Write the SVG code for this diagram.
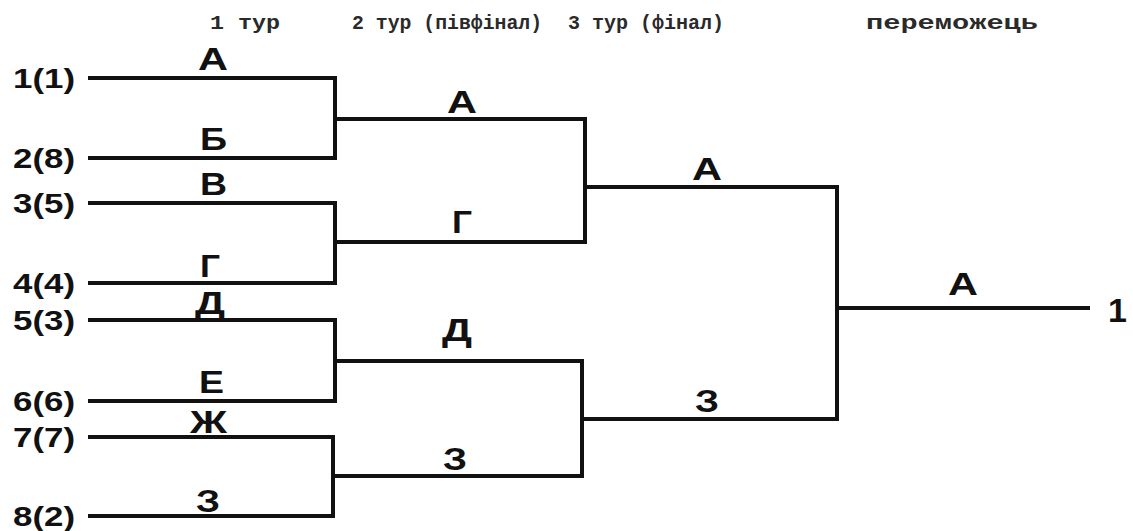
<svg xmlns="http://www.w3.org/2000/svg" width="1133" height="531" viewBox="0 0 1133 531">
<style>
.ln{fill:none;stroke:#111;stroke-width:4;stroke-linecap:square;stroke-linejoin:miter}
.hd{font-family:"Liberation Mono","Courier New",monospace;font-size:20px;font-weight:bold;fill:#2a2a2a}
.lb{font-family:"Liberation Sans",Arial,sans-serif;font-weight:bold;font-size:31px;fill:#111}
.sd{font-family:"Liberation Sans",Arial,sans-serif;font-weight:bold;font-size:28px;fill:#111}
</style>
<rect width="1133" height="531" fill="#fff"/>
<g id="headers">
<text class="hd" x="210" y="29" textLength="70" lengthAdjust="spacingAndGlyphs">1 тур</text>
<text class="hd" x="352" y="29" textLength="190" lengthAdjust="spacingAndGlyphs">2 тур (півфінал)</text>
<text class="hd" x="568" y="29" textLength="156" lengthAdjust="spacingAndGlyphs">3 тур (фінал)</text>
<text class="hd" x="866" y="29" textLength="172" lengthAdjust="spacingAndGlyphs">переможець</text>
</g>
<g id="connectors">
<path class="ln" d="M90,78 H335 V158 H90"/>
<path class="ln" d="M90,203 H335 V283 H90"/>
<path class="ln" d="M90,320 H335 V401 H90"/>
<path class="ln" d="M90,437 H333 V516 H90"/>
<path class="ln" d="M335,119 H585 V242 H335"/>
<path class="ln" d="M335,361 H582 V476 H333"/>
<path class="ln" d="M585,187 H837 V419 H582"/>
<path class="ln" d="M837,308 H1088"/>
</g>
<g id="seeds">
<text class="sd" x="13" y="88" textLength="62" lengthAdjust="spacingAndGlyphs">1(1)</text>
<text class="sd" x="13" y="168" textLength="62" lengthAdjust="spacingAndGlyphs">2(8)</text>
<text class="sd" x="13" y="213" textLength="62" lengthAdjust="spacingAndGlyphs">3(5)</text>
<text class="sd" x="13" y="293" textLength="62" lengthAdjust="spacingAndGlyphs">4(4)</text>
<text class="sd" x="13" y="330" textLength="62" lengthAdjust="spacingAndGlyphs">5(3)</text>
<text class="sd" x="13" y="411" textLength="62" lengthAdjust="spacingAndGlyphs">6(6)</text>
<text class="sd" x="13" y="447" textLength="62" lengthAdjust="spacingAndGlyphs">7(7)</text>
<text class="sd" x="13" y="526" textLength="62" lengthAdjust="spacingAndGlyphs">8(2)</text>
</g>
<g id="round1">
<text class="lb" x="198" y="70" textLength="30" lengthAdjust="spacingAndGlyphs">А</text>
<text class="lb" x="200" y="150" textLength="27" lengthAdjust="spacingAndGlyphs">Б</text>
<text class="lb" x="200" y="195" textLength="27" lengthAdjust="spacingAndGlyphs">В</text>
<text class="lb" x="200" y="277" textLength="20" lengthAdjust="spacingAndGlyphs">Г</text>
<text class="lb" x="195" y="314" textLength="30" lengthAdjust="spacingAndGlyphs">Д</text>
<text class="lb" x="199" y="393" textLength="25" lengthAdjust="spacingAndGlyphs">Е</text>
<text class="lb" x="190" y="433" textLength="37" lengthAdjust="spacingAndGlyphs">Ж</text>
<text class="lb" x="196" y="512" textLength="24" lengthAdjust="spacingAndGlyphs">З</text>
</g>
<g id="round2">
<text class="lb" x="447" y="113" textLength="30" lengthAdjust="spacingAndGlyphs">А</text>
<text class="lb" x="452" y="233" textLength="20" lengthAdjust="spacingAndGlyphs">Г</text>
<text class="lb" x="442" y="341" textLength="30" lengthAdjust="spacingAndGlyphs">Д</text>
<text class="lb" x="443" y="470" textLength="24" lengthAdjust="spacingAndGlyphs">З</text>
</g>
<g id="round3">
<text class="lb" x="692" y="180" textLength="30" lengthAdjust="spacingAndGlyphs">А</text>
<text class="lb" x="695" y="412" textLength="24" lengthAdjust="spacingAndGlyphs">З</text>
</g>
<g id="winner">
<text class="lb" x="948" y="295" textLength="30" lengthAdjust="spacingAndGlyphs">А</text>
<text class="lb" x="1108" y="322" style="font-size:34px">1</text>
</g>
</svg>
